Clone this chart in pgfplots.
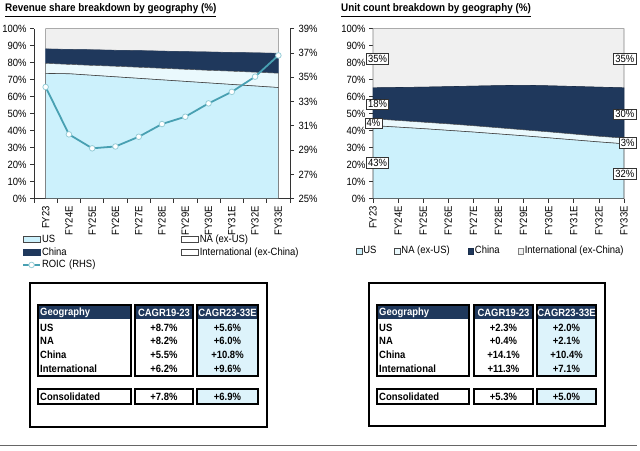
\documentclass[border=0pt]{standalone}
\usepackage{fontspec}
\setmainfont{Liberation Sans}[FakeStretch=0.9]
\usepackage{pgfplots}
\usepackage{pgfplotstable}
\pgfplotsset{compat=1.18}
\definecolor{uscol}{RGB}{204,241,252}
\definecolor{nacol}{RGB}{234,249,253}
\definecolor{cncol}{RGB}{31,56,92}
\definecolor{intcol}{RGB}{240,240,240}
\definecolor{edgecol}{RGB}{70,70,70}
\definecolor{roic}{RGB}{72,160,178}
\definecolor{roicmk}{RGB}{150,205,215}
\definecolor{tblcyan}{RGB}{221,243,251}

\pgfplotstableread{
x us na cn intl roic
0 73.7 5.9 8.5 11.9 34.2
1 73.5 5.5 8.8 12.2 30.3
2 72.6 5.8 9.2 12.4 29.15
3 71.7 6.2 9.4 12.7 29.3
4 70.8 6.5 9.8 12.9 30.1
5 69.9 6.8 10.1 13.2 31.15
6 69.0 7.1 10.4 13.5 31.75
7 68.1 7.4 10.8 13.7 32.85
8 67.2 7.8 11.0 14.0 33.8
9 66.3 8.1 11.4 14.2 35.05
10 65.4 8.4 11.7 14.5 36.8
}\revtab

\pgfplotstableread{
x us na cn intl
0 43.0 4.0 18.2 34.8
1 42.1 3.9 19.4 34.6
2 41.2 3.8 20.6 34.4
3 40.2 3.8 21.9 34.1
4 39.2 3.7 23.3 33.8
5 38.1 3.6 24.8 33.5
6 37.0 3.5 26.2 33.3
7 35.8 3.5 27.1 33.6
8 34.6 3.4 28.0 34.0
9 33.4 3.3 28.9 34.4
10 32.3 3.3 29.6 34.8
}\unittab

\pgfplotsset{
  common/.style={
    scale only axis, height=170pt, anchor=south west,
    axis line style={-, black!80, line width=0.7pt},
    tick style={black!80, line width=0.7pt},
    tick align=outside, major tick length=4pt, minor tick length=4pt,
    /pgf/number format/assume math mode=true,
    every tick label/.append style={font=\fontsize{10.5}{12}\selectfont},
    xtick={0,...,10},
    xticklabels={FY23,FY24E,FY25E,FY26E,FY27E,FY28E,FY29E,FY30E,FY31E,FY32E,FY33E},
    xticklabel style={rotate=90, anchor=east},
  },
}
\tikzset{
  tt/.style={font=\bfseries\fontsize{10.5}{12}\selectfont, inner sep=0pt},
  ttw/.style={tt, text=white},
  lab/.style={draw=black!80, fill=white, inner sep=1.6pt, line width=0.6pt, font=\fontsize{10.5}{12}\selectfont},
}

\begin{document}
\begin{tikzpicture}
\path[use as bounding box] (0pt,0pt) rectangle (640pt,450pt);

% titles
\node[anchor=base west, inner sep=0pt, font=\bfseries\fontsize{11}{13}\selectfont] at (5pt,438pt) {\underline{Revenue share breakdown by geography (\%)}};
\node[anchor=base west, inner sep=0pt, font=\bfseries\fontsize{11}{13}\selectfont] at (341pt,438pt) {\underline{Unit count breakdown by geography (\%)}};

% ---------- left chart: areas ----------
\begin{axis}[common, width=256pt, at={(34pt,251.3pt)},
  xmin=-0.5, xmax=10.5, ymin=0, ymax=100,
  axis x line*=bottom, axis y line*=left,
  ytick={0,10,...,100}, yticklabel={\pgfmathprintnumber{\tick}\%},
  major x tick style={draw=none},
  minor xtick={-0.5,0.5,...,10.5},
  stack plots=y]
\addplot[fill=uscol, draw=edgecol, line width=0.6pt] table[x=x,y=us]{\revtab} \closedcycle;
\addplot[fill=nacol, draw=edgecol, line width=0.4pt] table[x=x,y=na]{\revtab} \closedcycle;
\addplot[fill=cncol, draw=cncol, line width=0.4pt] table[x=x,y=cn]{\revtab} \closedcycle;
\addplot[fill=intcol, draw=gray, line width=0.6pt] table[x=x,y=intl]{\revtab} \closedcycle;
\end{axis}

% ---------- left chart: ROIC ----------
\begin{axis}[scale only axis, height=170pt, width=256pt, at={(34pt,251.3pt)}, anchor=south west,
  xmin=-0.5, xmax=10.5, ymin=25, ymax=39,
  axis x line=none, axis y line*=right,
  axis line style={-, black!80, line width=0.7pt},
  tick style={black!80, line width=0.7pt},
  tick align=outside, major tick length=4pt,
  ytick={25,27,...,39}, yticklabel={\pgfmathprintnumber{\tick}\%},
  /pgf/number format/assume math mode=true,
  every tick label/.append style={font=\fontsize{10.5}{12}\selectfont},
  yticklabel style={anchor=west, xshift=1pt},
  legend columns=2,
  legend cell align=left,
  legend image code/.code={\draw[#1] (0pt,-3pt) rectangle (17pt,3pt);},
  legend style={draw=none, fill=none, at={(-0.047,-0.205)}, anchor=north west,
    inner sep=0pt, row sep=0.6pt, column sep=0pt,
    font=\fontsize{10.5}{12}\selectfont,
    nodes={inner sep=1pt, text height=7.8pt, text depth=2.2pt}},
  ]
\addlegendimage{fill=uscol, draw=edgecol, line width=0.8pt}
\addlegendentry[text width=138pt]{US}
\addlegendimage{fill=white, draw=edgecol, line width=0.8pt}
\addlegendentry{NA (ex-US)}
\addlegendimage{fill=cncol, draw=cncol, line width=0.8pt}
\addlegendentry[text width=138pt]{China}
\addlegendimage{fill=white, draw=edgecol, line width=0.8pt}
\addlegendentry{International (ex-China)}
\addplot[roic, line width=1.8pt, mark=*, mark size=2.8pt,
  mark options={fill=white, draw=roicmk, line width=0.8pt},
  line legend]
  table[x=x,y=roic]{\revtab};
\addlegendentry[text width=138pt]{ROIC (RHS)}
\end{axis}

% ---------- right chart ----------
\begin{axis}[common, width=251pt, at={(373pt,251.3pt)},
  xmin=0, xmax=10, ymin=0, ymax=100,
  axis x line*=bottom, axis y line*=left,
  ytick={0,10,...,100}, yticklabel={\pgfmathprintnumber{\tick}\%},
  stack plots=y, clip=false,
  legend columns=4,
  legend cell align=left,
  legend image code/.code={\draw[#1] (0pt,-2.8pt) rectangle (5.6pt,2.8pt);},
  legend style={draw=none, fill=none, at={(-0.068,-0.272)}, anchor=north west,
    inner sep=0pt, column sep=0pt,
    font=\fontsize{10.5}{12}\selectfont,
    nodes={inner sep=1pt, text height=7.8pt, text depth=2.2pt},
    /tikz/every even column/.append style={column sep=17pt}},
  after end axis/.code={
    \node[lab] at (axis cs:0.18,82.2) {35\%};
    \node[lab] at (axis cs:0.18,55.6) {18\%};
    \node[lab] at (axis cs:0.02,44.3) {4\%};
    \node[lab] at (axis cs:0.18,21.1) {43\%};
    \node[lab] at (axis cs:10.03,82.2) {35\%};
    \node[lab] at (axis cs:10.03,49.7) {30\%};
    \node[lab] at (axis cs:10.15,32.9) {3\%};
    \node[lab] at (axis cs:10.03,14.6) {32\%};
  },
  ]
\addplot[fill=uscol, draw=edgecol, line width=0.6pt] table[x=x,y=us]{\unittab} \closedcycle;
\addlegendentry{US}
\addplot[fill=nacol, draw=edgecol, line width=0.4pt] table[x=x,y=na]{\unittab} \closedcycle;
\addlegendentry{NA (ex-US)}
\addplot[fill=cncol, draw=cncol!80!black, line width=0.6pt] table[x=x,y=cn]{\unittab} \closedcycle;
\addlegendentry{China}
\addplot[fill=intcol, draw=gray, line width=0.6pt] table[x=x,y=intl]{\unittab} \closedcycle;
\addlegendentry{International (ex-China)}
\end{axis}

% ---------- left table ----------
\draw[line width=2pt] (30pt,167pt) rectangle (267pt,23pt);
\fill[tblcyan] (197pt,74pt) rectangle (258pt,131pt);
\fill[cncol] (38pt,131pt) rectangle (131pt,145pt);
\fill[cncol] (135pt,131pt) rectangle (193pt,145pt);
\fill[cncol] (197pt,131pt) rectangle (258pt,145pt);
\fill[tblcyan] (197pt,46pt) rectangle (258pt,61pt);
\draw[line width=1.3pt] (38pt,74pt) rectangle (131pt,145pt);
\draw[line width=1.3pt] (135pt,74pt) rectangle (193pt,145pt);
\draw[line width=1.3pt] (197pt,74pt) rectangle (258pt,145pt);
\draw[line width=1.3pt] (38pt,46pt) rectangle (131pt,61pt);
\draw[line width=1.3pt] (135pt,46pt) rectangle (193pt,61pt);
\draw[line width=1.3pt] (197pt,46pt) rectangle (258pt,61pt);
\node[ttw, anchor=west] at (40pt,137.5pt) {Geography};
\node[ttw] at (164pt,137.5pt) {CAGR19-23};
\node[ttw] at (227.5pt,137.5pt) {CAGR23-33E};
\node[tt, anchor=west] at (40pt,122.3pt) {US};
\node[tt, anchor=west] at (40pt,109pt) {NA};
\node[tt, anchor=west] at (40pt,95.3pt) {China};
\node[tt, anchor=west] at (40pt,81.3pt) {International};
\node[tt, anchor=west] at (40pt,53.5pt) {Consolidated};
\node[tt] at (164pt,122.3pt) {+8.7\%};
\node[tt] at (164pt,109pt) {+8.2\%};
\node[tt] at (164pt,95.3pt) {+5.5\%};
\node[tt] at (164pt,81.3pt) {+6.2\%};
\node[tt] at (164pt,53.5pt) {+7.8\%};
\node[tt] at (227.5pt,122.3pt) {+5.6\%};
\node[tt] at (227.5pt,109pt) {+6.0\%};
\node[tt] at (227.5pt,95.3pt) {+10.8\%};
\node[tt] at (227.5pt,81.3pt) {+9.6\%};
\node[tt] at (227.5pt,53.5pt) {+6.9\%};

% ---------- right table ----------
\draw[line width=2pt] (369pt,167pt) rectangle (605pt,24pt);
\fill[tblcyan] (537pt,74pt) rectangle (596pt,131pt);
\fill[cncol] (377pt,131pt) rectangle (469pt,145pt);
\fill[cncol] (474pt,131pt) rectangle (533pt,145pt);
\fill[cncol] (537pt,131pt) rectangle (596pt,145pt);
\fill[tblcyan] (537pt,46pt) rectangle (596pt,61pt);
\draw[line width=1.3pt] (377pt,74pt) rectangle (469pt,145pt);
\draw[line width=1.3pt] (474pt,74pt) rectangle (533pt,145pt);
\draw[line width=1.3pt] (537pt,74pt) rectangle (596pt,145pt);
\draw[line width=1.3pt] (377pt,46pt) rectangle (469pt,61pt);
\draw[line width=1.3pt] (474pt,46pt) rectangle (533pt,61pt);
\draw[line width=1.3pt] (537pt,46pt) rectangle (596pt,61pt);
\node[ttw, anchor=west] at (379pt,137.5pt) {Geography};
\node[ttw] at (503.5pt,137.5pt) {CAGR19-23};
\node[ttw] at (566.5pt,137.5pt) {CAGR23-33E};
\node[tt, anchor=west] at (379pt,122.3pt) {US};
\node[tt, anchor=west] at (379pt,109pt) {NA};
\node[tt, anchor=west] at (379pt,95.3pt) {China};
\node[tt, anchor=west] at (379pt,81.3pt) {International};
\node[tt, anchor=west] at (379pt,53.5pt) {Consolidated};
\node[tt] at (503.5pt,122.3pt) {+2.3\%};
\node[tt] at (503.5pt,109pt) {+0.4\%};
\node[tt] at (503.5pt,95.3pt) {+14.1\%};
\node[tt] at (503.5pt,81.3pt) {+11.3\%};
\node[tt] at (503.5pt,53.5pt) {+5.3\%};
\node[tt] at (566.5pt,122.3pt) {+2.0\%};
\node[tt] at (566.5pt,109pt) {+2.1\%};
\node[tt] at (566.5pt,95.3pt) {+10.4\%};
\node[tt] at (566.5pt,81.3pt) {+7.1\%};
\node[tt] at (566.5pt,53.5pt) {+5.0\%};

% bottom rule
\draw[black!60, line width=1.2pt] (0pt,4.5pt) -- (637pt,4.5pt);
\end{tikzpicture}
\end{document}
